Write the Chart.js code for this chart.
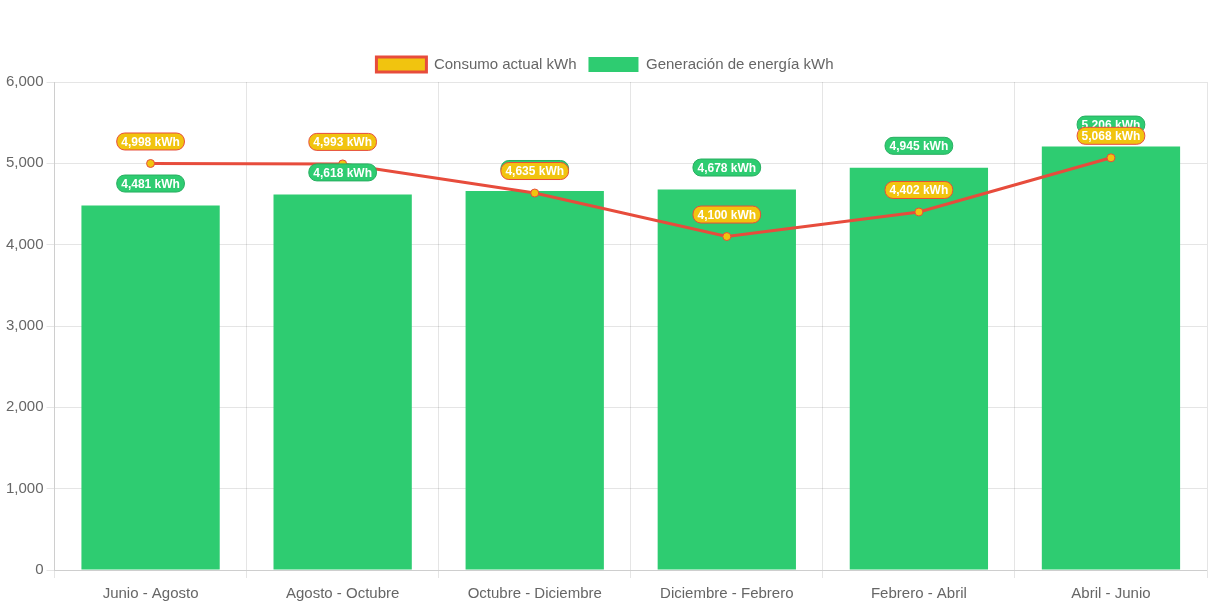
<!DOCTYPE html>
<html>
<head>
<meta charset="utf-8">
<script src="https://cdn.jsdelivr.net/npm/chart.js@4/dist/chart.umd.min.js"></script>
<style>
  html, body { margin: 0; padding: 0; background: #fff; }
  #wrap { width: 1213px; height: 606px; }
</style>
</head>
<body>
<div id="wrap"><canvas id="energyChart"></canvas></div>
<script>
// Periodos y valores (kWh)
const periodos = ['Junio - Agosto', 'Agosto - Octubre', 'Octubre - Diciembre', 'Diciembre - Febrero', 'Febrero - Abril', 'Abril - Junio'];
const consumoActual = [4998, 4993, 4635, 4100, 4402, 5068];
const generacion = [4481, 4618, 4660, 4678, 4945, 5206];

Chart.defaults.font.family = '"Liberation Sans", Arial, Helvetica, sans-serif';
Chart.defaults.font.size = 15;
Chart.defaults.color = '#666';

// Etiquetas tipo "pastilla" sobre cada punto / barra
const etiquetas = {
    id: 'etiquetas',
    afterDatasetsDraw(chart) {
        const ctx = chart.ctx;
        const orden = [1, 0]; // barras primero, luego la línea encima
        ctx.save();
        ctx.font = 'bold 12px "Liberation Sans", Arial, sans-serif';
        ctx.textAlign = 'center';
        ctx.textBaseline = 'middle';
        orden.forEach(i => {
            const ds = chart.data.datasets[i];
            const meta = chart.getDatasetMeta(i);
            meta.data.forEach((el, j) => {
                const txt = ds.data[j].toLocaleString('en-US') + ' kWh';
                const w = ctx.measureText(txt).width + 9;
                const h = 17;
                const cx = el.x;
                const cy = el.y - 22;
                ctx.beginPath();
                ctx.roundRect(cx - w / 2, cy - h / 2, w, h, 8);
                ctx.fillStyle = ds.labelBg;
                ctx.fill();
                ctx.lineWidth = 1;
                ctx.strokeStyle = ds.labelBorder;
                ctx.stroke();
                ctx.fillStyle = '#fff';
                ctx.fillText(txt, cx, cy + 1);
            });
        });
        ctx.restore();
    }
};

const energyChart = new Chart(document.getElementById('energyChart'), {
    data: {
        labels: periodos,
        datasets: [{
            type: 'line',
            label: 'Consumo actual kWh',
            data: consumoActual,
            borderColor: '#e74c3c',
            backgroundColor: '#f1c40f',
            borderWidth: 3,
            pointRadius: 4,
            pointBorderWidth: 1,
            pointBackgroundColor: '#f1c40f',
            pointBorderColor: '#e74c3c',
            tension: 0,
            labelBg: '#f1c40f',
            labelBorder: '#e74c3c'
        }, {
            type: 'bar',
            label: 'Generación de energía kWh',
            data: generacion,
            backgroundColor: '#2ecc71',
            labelBg: '#2ecc71',
            labelBorder: '#27ae60'
        }]
    },
    options: {
        responsive: true,
        maintainAspectRatio: false,
        animation: false,
        layout: { padding: { top: 45, right: 6, left: 3, bottom: -4 } },
        plugins: {
            legend: {
                labels: { boxWidth: 50, boxHeight: 15, padding: 12 }
            },
            tooltip: { enabled: false }
        },
        scales: {
            x: {
                ticks: { padding: 7 }
            },
            y: {
                min: 0,
                max: 6000,
                ticks: { stepSize: 1000 }
            }
        }
    },
    plugins: [etiquetas]
});
</script>
</body>
</html>
